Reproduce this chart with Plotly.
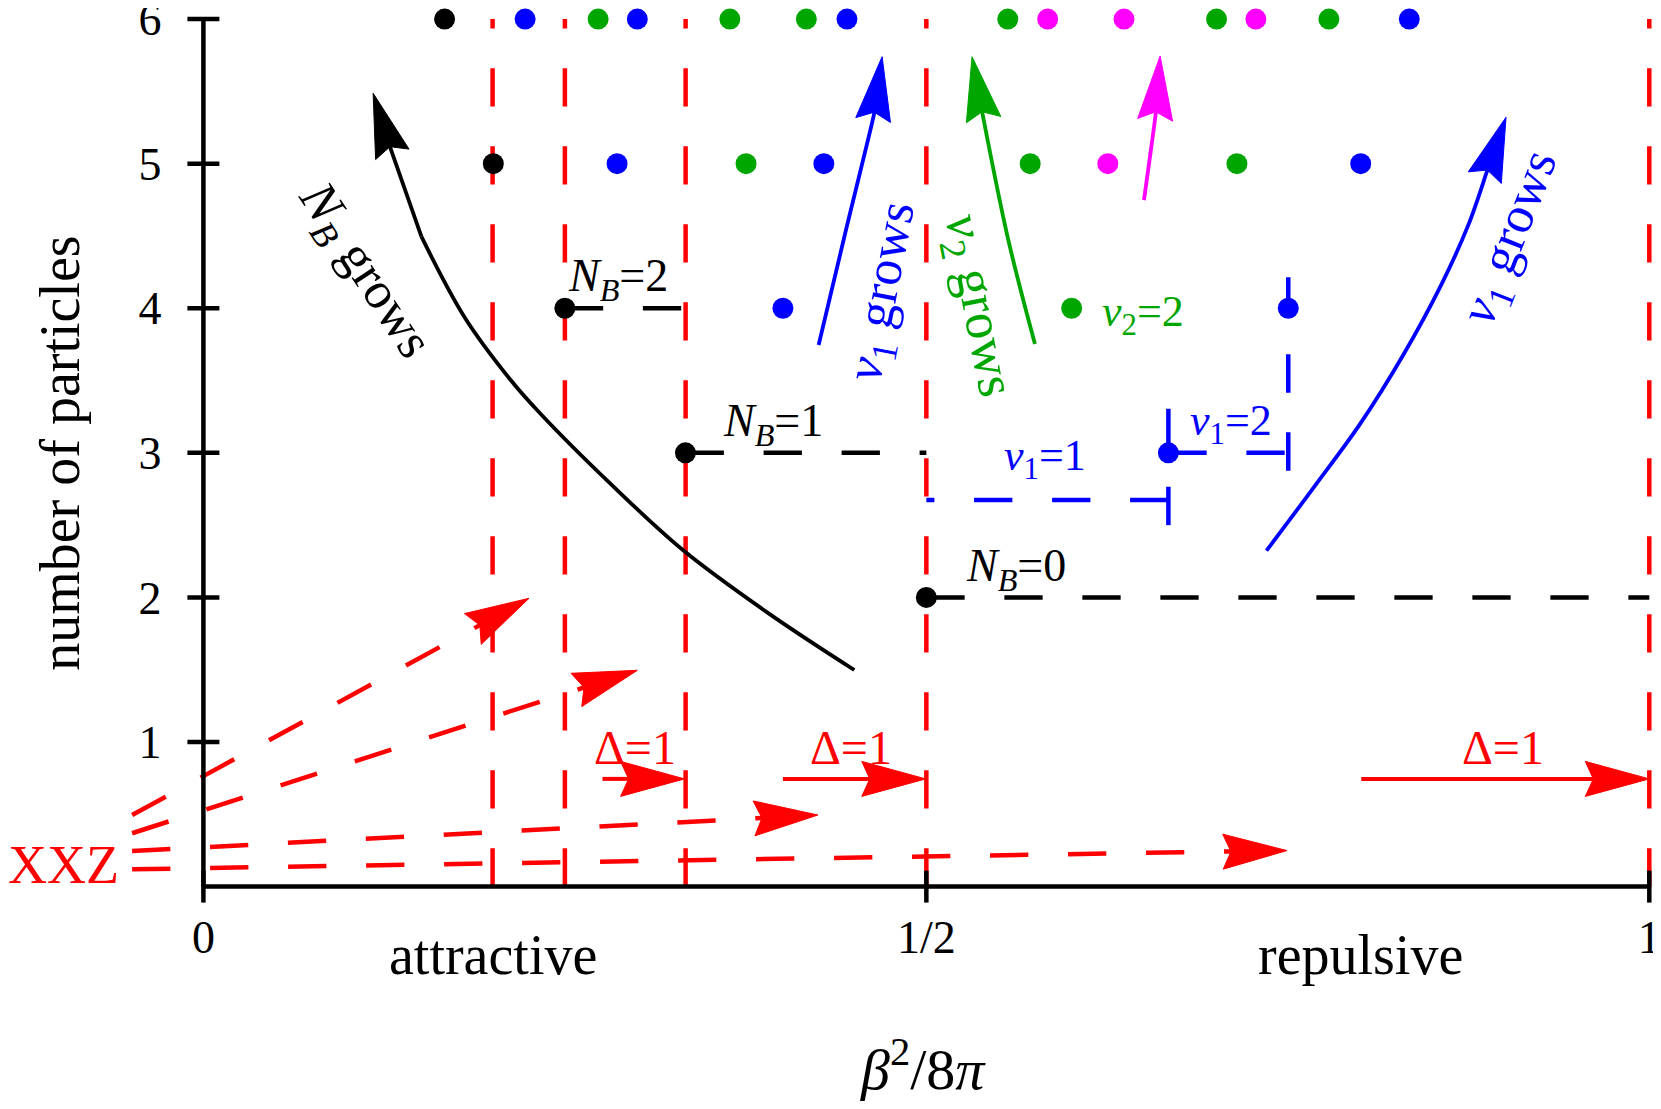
import math
import plotly.graph_objects as go

# ---------------------------------------------------------------- page / scales
# the html body keeps its default 8px margin, so the figure is a bit smaller
W, H = 1645, 1093
PX0, PX1 = 195.4, 1641.3      # pixel x of beta^2/8pi = 0 and 1
PY0, PY6 = 878.6, 11.1        # pixel y of 0 and 6 particles
SX = PX1 - PX0
SY = (PY0 - PY6) / 6
X_RANGE = [-PX0 / SX, (W - PX0) / SX]
Y_RANGE = [-(H - PY0) / SY, 6 + PY6 / SY]

SERIF = "Liberation Serif"
RED, BLUE, GREEN, MAGENTA, BLACK = "#FF0000", "#0000FF", "#00A600", "#FF00FF", "#000000"
DASH = "38.3px,39.7px"

# ---------------------------------------------------------------- data
# dots (beta^2/8pi, number of particles)
black_x = [0.1668, 0.2005, 0.2500, 0.3334, 0.5000]
black_y = [6, 5, 4, 3, 2]
blue_x = [0.2225, 0.3001, 0.4451, 0.8340, 0.2861, 0.4291, 0.8004, 0.4008, 0.7503, 0.6674]
blue_y = [6, 6, 6, 6, 5, 5, 5, 4, 4, 3]
green_x = [0.2730, 0.3641, 0.4170, 0.5563, 0.7007, 0.7784, 0.3753, 0.5718, 0.7148, 0.6005]
green_y = [6, 6, 6, 6, 6, 6, 5, 5, 5, 4]
magenta_x = [0.5839, 0.6367, 0.7279, 0.6255]
magenta_y = [6, 6, 6, 5]

# red dashed thresholds
threshold_x = [0.2, 0.25, 0.3335, 0.5, 1.0]

# black dashed N_B lines
nb_x0 = [0.25, 0.3335, 0.5]
nb_x1 = [0.3335, 0.5, 1.0]
nb_y = [4, 3, 2]

# blue dashed nu_1 lines
bd_x0 = [0.6674, 0.6674, 0.6674, 0.7503]
bd_y0 = [2.674, 2.50, 3.00, 2.877]
bd_x1 = [0.5000, 0.6674, 0.7503, 0.7503]
bd_y1 = [2.674, 3.31, 3.00, 4.214]

# XXZ dashed arrows
xxz_x0 = [-0.0493, -0.0493, -0.0493, -0.0493]
xxz_y0 = [0.495, 0.369, 0.246, 0.120]
xxz_x1 = [0.2252, 0.3001, 0.4250, 0.7494]
xxz_y1 = [1.994, 1.496, 0.495, 0.249]

# Delta = 1 arrows
delta_x0 = [0.2760, 0.4008, 0.8008]
delta_x1 = [0.3328, 0.4996, 1.0000]
delta_y = 0.745

# curved arrows (last point = tip)
nbg_x = [0.4502, 0.3909, 0.3316, 0.2822, 0.2328, 0.2125, 0.1804, 0.1508]
nbg_y = [1.498, 1.890, 2.328, 2.780, 3.274, 3.504, 3.942, 4.495]
nbg_head_x = [0.1508, 0.1297, 0.1174]
nbg_head_y = [4.495, 5.095, 5.487]
nu1_mid_x = [0.4255, 0.4444, 0.4637, 0.4694]
nu1_mid_y = [3.746, 4.541, 5.337, 5.740]
nu2_x = [0.5751, 0.5567, 0.5390, 0.5316]
nu2_y = [3.753, 4.472, 5.337, 5.740]
mag_x = [0.6505, 0.6585, 0.6617]
mag_y = [4.748, 5.337, 5.745]
nu1_right_x = [0.7352, 0.7686, 0.8000, 0.8300, 0.8560, 0.8750, 0.8873, 0.9009]
nu1_right_y = [2.323, 2.770, 3.200, 3.680, 4.160, 4.580, 4.934, 5.321]

x_ticks = [0, 0.5, 1]
x_ticktext = ["0", "1/2", "1"]
y_ticks = [1, 2, 3, 4, 5, 6]

fig = go.Figure()


def add_line(x, y, color, width=4.5, dash="solid", shape="linear"):
    fig.add_trace(go.Scatter(x=x, y=y, mode="lines", hoverinfo="skip",
                             line=dict(color=color, width=width, dash=dash, shape=shape,
                                       smoothing=1.0 if shape == "spline" else None)))


def add_head(xt, yt, xf, yf, color, length=64, half=17.5, notch=8):
    # arrow head drawn in pixel space, returned neck point in data space
    dx, dy = (xt - xf) * SX, (yt - yf) * SY
    n = math.hypot(dx, dy)
    ux, uy = dx / n, dy / n
    px, py = -uy, ux
    pts = [(0, 0), (-length, half), (-(length - notch), 0), (-length, -half), (0, 0)]
    hx = [xt + (a * ux + b * px) / SX for a, b in pts]
    hy = [yt + (a * uy + b * py) / SY for a, b in pts]
    fig.add_trace(go.Scatter(x=hx, y=hy, mode="lines", fill="toself", fillcolor=color,
                             line=dict(color=color, width=1), hoverinfo="skip"))
    return xt - (length - notch) * ux / SX, yt - (length - notch) * uy / SY


# red vertical thresholds
for xv in threshold_x:
    add_line([xv, xv], [0, 6], RED, dash=DASH)

# XXZ dashed arrows
for x0, y0, x1, y1 in zip(xxz_x0, xxz_y0, xxz_x1, xxz_y1):
    nx, ny = add_head(x1, y1, x0, y0, RED)
    add_line([x0, nx], [y0, ny], RED, dash=DASH)

# Delta = 1 arrows
for x0, x1 in zip(delta_x0, delta_x1):
    nx, ny = add_head(x1, delta_y, x0, delta_y, RED)
    add_line([x0, nx], [delta_y, ny], RED, width=4)

# N_B dashed lines
for x0, x1, yv in zip(nb_x0, nb_x1, nb_y):
    add_line([x0, x1], [yv, yv], BLACK, dash=DASH)

# nu_1 dashed lines
for x0, y0, x1, y1 in zip(bd_x0, bd_y0, bd_x1, bd_y1):
    add_line([x0, x1], [y0, y1], BLUE, dash=DASH)

# N_B grows
add_line(nbg_x, nbg_y, BLACK, width=3.8, shape="spline")
nx, ny = add_head(nbg_head_x[-1], nbg_head_y[-1], nbg_head_x[-2], nbg_head_y[-2], BLACK)
add_line(nbg_head_x[:-1] + [nx], nbg_head_y[:-1] + [ny], BLACK, width=3.8)

# coloured arrows
for xs, ys, col in [(nu1_mid_x, nu1_mid_y, BLUE), (nu2_x, nu2_y, GREEN),
                    (mag_x, mag_y, MAGENTA), (nu1_right_x, nu1_right_y, BLUE)]:
    nx, ny = add_head(xs[-1], ys[-1], xs[-2], ys[-2], col)
    add_line(xs[:-1] + [nx], ys[:-1] + [ny], col, width=3.8, shape="spline")

# dots
for xs, ys, col in [(black_x, black_y, BLACK), (blue_x, blue_y, BLUE),
                    (green_x, green_y, GREEN), (magenta_x, magenta_y, MAGENTA)]:
    fig.add_trace(go.Scatter(x=xs, y=ys, mode="markers", hoverinfo="skip",
                             marker=dict(color=col, size=21, line=dict(width=0))))

# axis lines and crossing tick marks
shapes = [
    dict(type="line", x0=0, x1=1, y0=0, y1=0),
    dict(type="line", x0=0, x1=0, y0=0, y1=6),
]
for t in y_ticks:
    shapes.append(dict(type="line", xsizemode="pixel", xanchor=0, x0=-16, x1=16, y0=t, y1=t))
for t in x_ticks:
    shapes.append(dict(type="line", ysizemode="pixel", yanchor=0, y0=-16, y1=16, x0=t, x1=t))
for s in shapes:
    s.update(xref="x", yref="y", layer="above", line=dict(color=BLACK, width=4.5))


def label(text, x, y, color=BLACK, size=44, angle=0):
    return dict(text=text, x=x, y=y, xref="x", yref="y", showarrow=False,
                xanchor="center", yanchor="middle", textangle=angle,
                font=dict(family=SERIF, size=size, color=color))


annotations = [
    label("<i>N</i><sub><i>B</i></sub>=2", 0.2865, 4.20, BLACK, 46),
    label("<i>N</i><sub><i>B</i></sub>=1", 0.3940, 3.20, BLACK, 46),
    label("<i>N</i><sub><i>B</i></sub>=0", 0.5620, 2.20, BLACK, 46),
    label("<i>ν</i><sub>1</sub>=1", 0.5820, 2.96, BLUE),
    label("<i>ν</i><sub>1</sub>=2", 0.7106, 3.20, BLUE),
    label("<i>ν</i><sub>2</sub>=2", 0.6495, 3.96, GREEN),
    label("Δ=1", 0.2986, 0.96, RED, 48),
    label("Δ=1", 0.4482, 0.96, RED, 48),
    label("Δ=1", 0.8988, 0.96, RED, 48),
    label("<i>N</i><sub><i>B</i></sub> grows", 0.1107, 4.253, BLACK, 52, 56.7),
    label("<i>ν</i><sub>1</sub> grows", 0.4707, 4.115, BLUE, 52, -79),
    label("<i>ν</i><sub>2</sub> grows", 0.5349, 4.014, GREEN, 53, 79),
    label("<i>ν</i><sub>1</sub> grows", 0.9046, 4.484, BLUE, 52, -68.5),
    label("XXZ", -0.0971, 0.15, RED, 54),
    label("attractive", 0.2, -0.47, BLACK, 56),
    label("repulsive", 0.8, -0.47, BLACK, 56),
    label("<i>β</i><sup>2</sup>/8<i>π</i>", 0.498, -1.24, BLACK, 58),
    label("number of particles", -0.0989, 2.996, BLACK, 56, -90),
]

tickfont = dict(family=SERIF, size=46, color=BLACK)
fig.update_layout(
    width=W, height=H,
    margin=dict(l=0, r=0, t=0, b=0),
    paper_bgcolor="white", plot_bgcolor="white",
    showlegend=False,
    shapes=shapes,
    annotations=annotations,
    xaxis=dict(range=X_RANGE, domain=[0, 1], anchor="free", automargin=False,
               position=(0 - Y_RANGE[0]) / (Y_RANGE[1] - Y_RANGE[0]),
               tickmode="array", tickvals=x_ticks, ticktext=x_ticktext,
               ticks="", ticklabelstandoff=19, ticklabeloverflow="allow", tickfont=tickfont,
               showline=False, showgrid=False, zeroline=False),
    yaxis=dict(range=Y_RANGE, domain=[0, 1], anchor="free", automargin=False,
               position=(0 - X_RANGE[0]) / (X_RANGE[1] - X_RANGE[0]),
               tickmode="array", tickvals=y_ticks,
               ticks="", ticklabelstandoff=42, ticklabeloverflow="allow", tickfont=tickfont,
               showline=False, showgrid=False, zeroline=False),
)

fig.write_html("out.html")
